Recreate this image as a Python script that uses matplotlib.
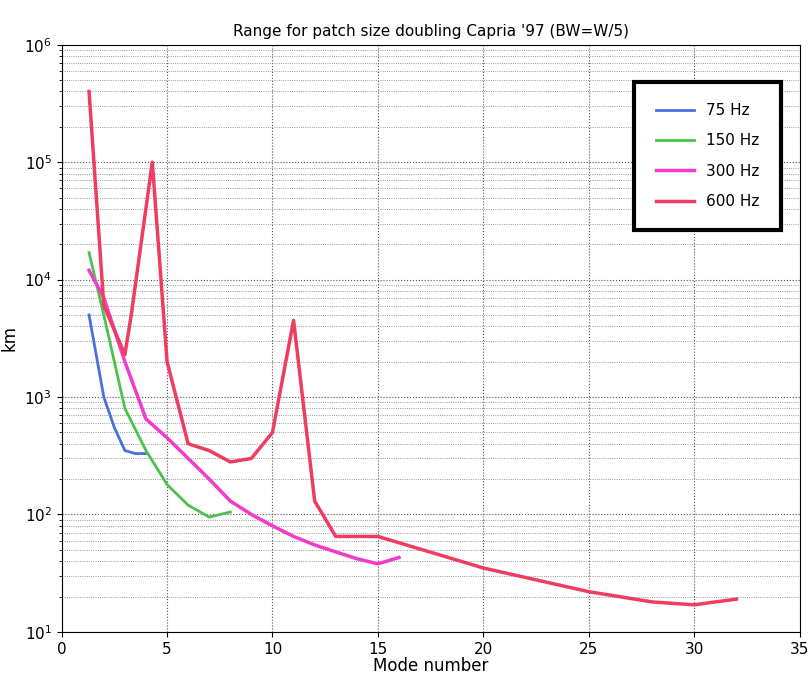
import matplotlib
matplotlib.use("Agg")
import matplotlib.pyplot as plt

x75 = [1.3, 2, 2.5, 3, 3.5, 4]
y75 = [5000, 1000, 550, 350, 330, 330]
x150 = [1.3, 2, 2.5, 3, 4, 5, 6, 7, 8]
y150 = [17000, 5000, 2000, 800, 350, 180, 120, 95, 105]
x300 = [1.3, 2, 3, 4, 5, 6, 7, 8, 9, 10, 11, 12, 13, 14, 15, 16]
y300 = [12000, 7000, 2000, 650, 450, 300, 200, 130, 100, 80, 65, 55, 48, 42, 38, 43]
x600 = [1.3, 2, 3, 3.3, 4.3, 5, 6, 7, 8, 9, 10, 11, 12, 13, 15, 20, 25, 28, 30, 31, 32]
y600 = [400000, 6000, 2300, 5000, 100000, 2000, 400, 350, 280, 300, 500, 4500, 130, 65, 65, 35, 22, 18, 17, 18, 19]

fig, ax = plt.subplots(figsize=(8.11, 6.78), dpi=100)
fig.subplots_adjust(left=0.076, right=0.986, top=0.934, bottom=0.068)
ax.semilogy(x75, y75, color="#4a6fe0", lw=2, label="75 Hz")
ax.semilogy(x150, y150, color="#4cc24c", lw=2, label="150 Hz")
ax.semilogy(x300, y300, color="#f03cc8", lw=2.5, label="300 Hz")
ax.semilogy(x600, y600, color="#ee3d60", lw=2.5, label="600 Hz")
ax.set_xlim(0, 35)
ax.set_ylim(10, 1e6)
ax.grid(True, which="major", linestyle=":", color="#555555", lw=0.8)
ax.grid(True, which="minor", axis="y", linestyle=":", color="#777777", lw=0.6)
ax.set_xlabel("Mode number", fontsize=12, labelpad=0)
ax.set_ylabel("km", fontsize=12)
ax.set_title("Range for patch size doubling Capria '97 (BW=W/5)", fontsize=11)
ax.tick_params(labelsize=11)
leg = ax.legend(loc="upper right", bbox_to_anchor=(0.985, 0.95), fontsize=11,
                fancybox=False, framealpha=1, borderpad=1.4, labelspacing=1.0,
                handlelength=2.5)
leg.get_frame().set_edgecolor("black")
leg.get_frame().set_linewidth(3)
fig.savefig("out.png")
